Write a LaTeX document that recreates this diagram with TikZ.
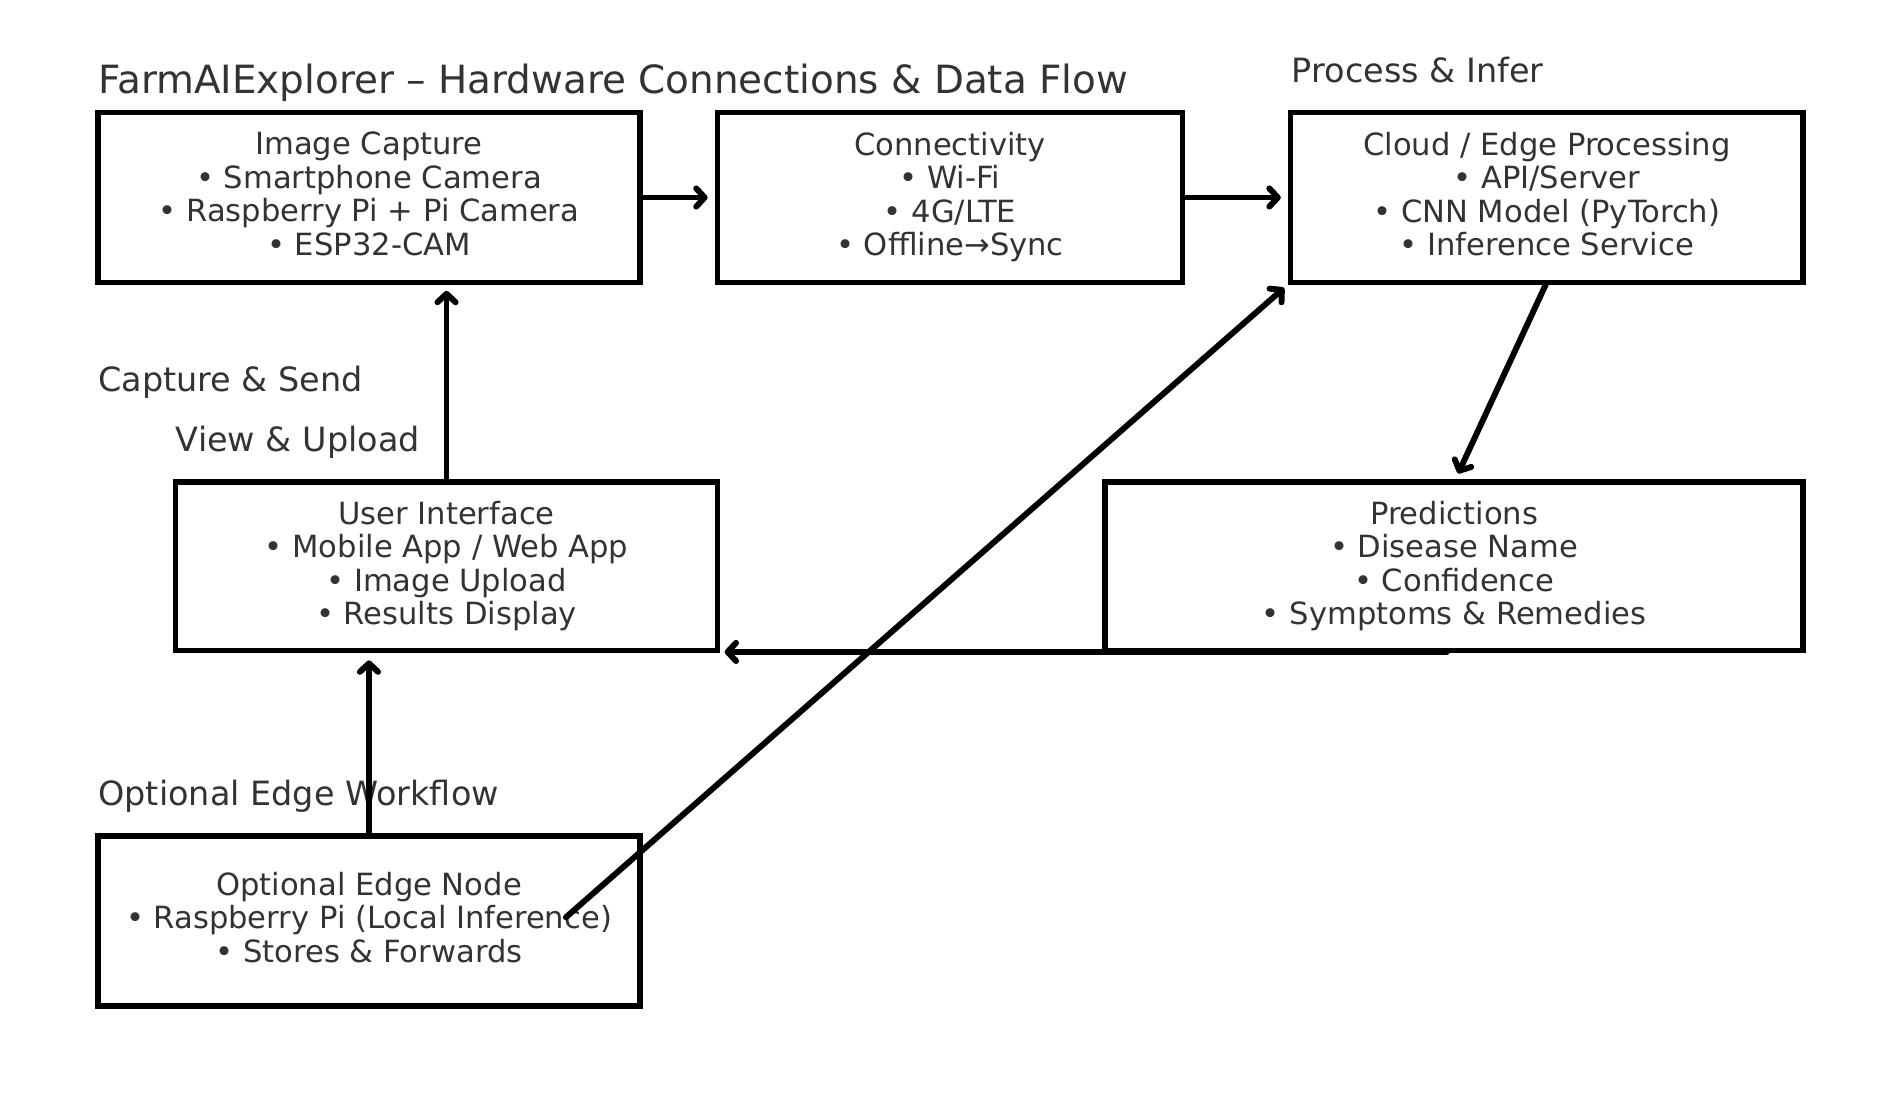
\documentclass[tikz,border=0pt]{standalone}
\usepackage{fontspec}
\setmainfont{DejaVu Sans}
\usetikzlibrary{arrows.meta}
\definecolor{txt}{HTML}{333333}
\tikzset{
  box/.style={draw=black, line width=4.6bp, inner sep=0pt, outer sep=0pt, align=center,
    text=txt, font=\fontsize{25.25bp}{27.7bp}\selectfont},
  lbl/.style={anchor=base west, inner sep=0pt, text=txt, font=\fontsize{27.6bp}{32bp}\selectfont},
  ttl/.style={anchor=base west, inner sep=0pt, text=txt, font=\fontsize{32.1bp}{38bp}\selectfont},
  arr/.style={line width=4.9bp, line cap=round, line join=round,
    -{Straight Barb[length=7bp,width=15bp,line cap=round,line join=round]}}
}
\begin{document}
\begin{tikzpicture}[x=1bp,y=-1bp]
\useasboundingbox (0,0) rectangle (1568,922.6);
\fill[white] (0,0) rectangle (1568,922.6);
% titles and labels
\node[ttl] (title) at (81,77) {FarmAIExplorer – Hardware Connections \& Data Flow};
\node[lbl] (lproc) at (1066,68) {Process \& Infer};
\node[lbl] (lcap) at (81,323) {Capture \& Send};
\node[lbl] (lview) at (145,373) {View \& Upload};
\node[lbl] (lopt) at (81,665) {Optional Edge Workflow};
% boxes
\node[box, minimum width=447bp, minimum height=140bp] (ic) at (304.5,163)
  {Image Capture\\• Smartphone Camera\\• Raspberry Pi + Pi Camera\\• ESP32-CAM\\[-21.5bp]};
\node[box, minimum width=384bp, minimum height=140bp] (conn) at (784,163)
  {Connectivity\\• Wi-Fi\\• 4G/LTE\\• Offline→Sync\\[-21.5bp]};
\node[box, minimum width=423bp, minimum height=140bp] (cloud) at (1276.5,163)
  {Cloud / Edge Processing\\• API/Server\\• CNN Model (PyTorch)\\• Inference Service\\[-21.5bp]};
\node[box, minimum width=447bp, minimum height=139bp] (ui) at (368.5,467.5)
  {User Interface\\• Mobile App / Web App\\• Image Upload\\• Results Display\\[-21.5bp]};
\node[box, minimum width=576bp, minimum height=139bp] (pred) at (1200,467.5)
  {Predictions\\• Disease Name\\• Confidence\\• Symptoms \& Remedies\\[-21.5bp]};
\node[box, minimum width=447bp, minimum height=140bp] (edge) at (304.5,760)
  {Optional Edge Node\\• Raspberry Pi (Local Inference)\\• Stores \& Forwards\\[-21.5bp]};
\coordinate (e6) at (467,757);
% connectors
\draw[arr, shorten <=3bp, shorten >=8bp] (ic.east) -- (conn.west);
\draw[arr, shorten <=3bp, shorten >=8bp] (conn.east) -- (cloud.west);
\draw[arr, shorten <=2bp, shorten >=8bp] (cloud.south) -- (pred.north);
\draw[arr, shorten >=7bp] (ui.north) -- (ui.north |- ic.south);
\draw[arr, shorten >=8bp] (edge.north) -- (edge.north |- ui.south);
\draw[arr, shorten >=6bp] ([xshift=-6bp,yshift=-1bp]pred.south) -- ([yshift=-1bp]ui.south east);
\draw[arr, shorten >=7bp] (e6) -- (cloud.south west);
\end{tikzpicture}
\end{document}
